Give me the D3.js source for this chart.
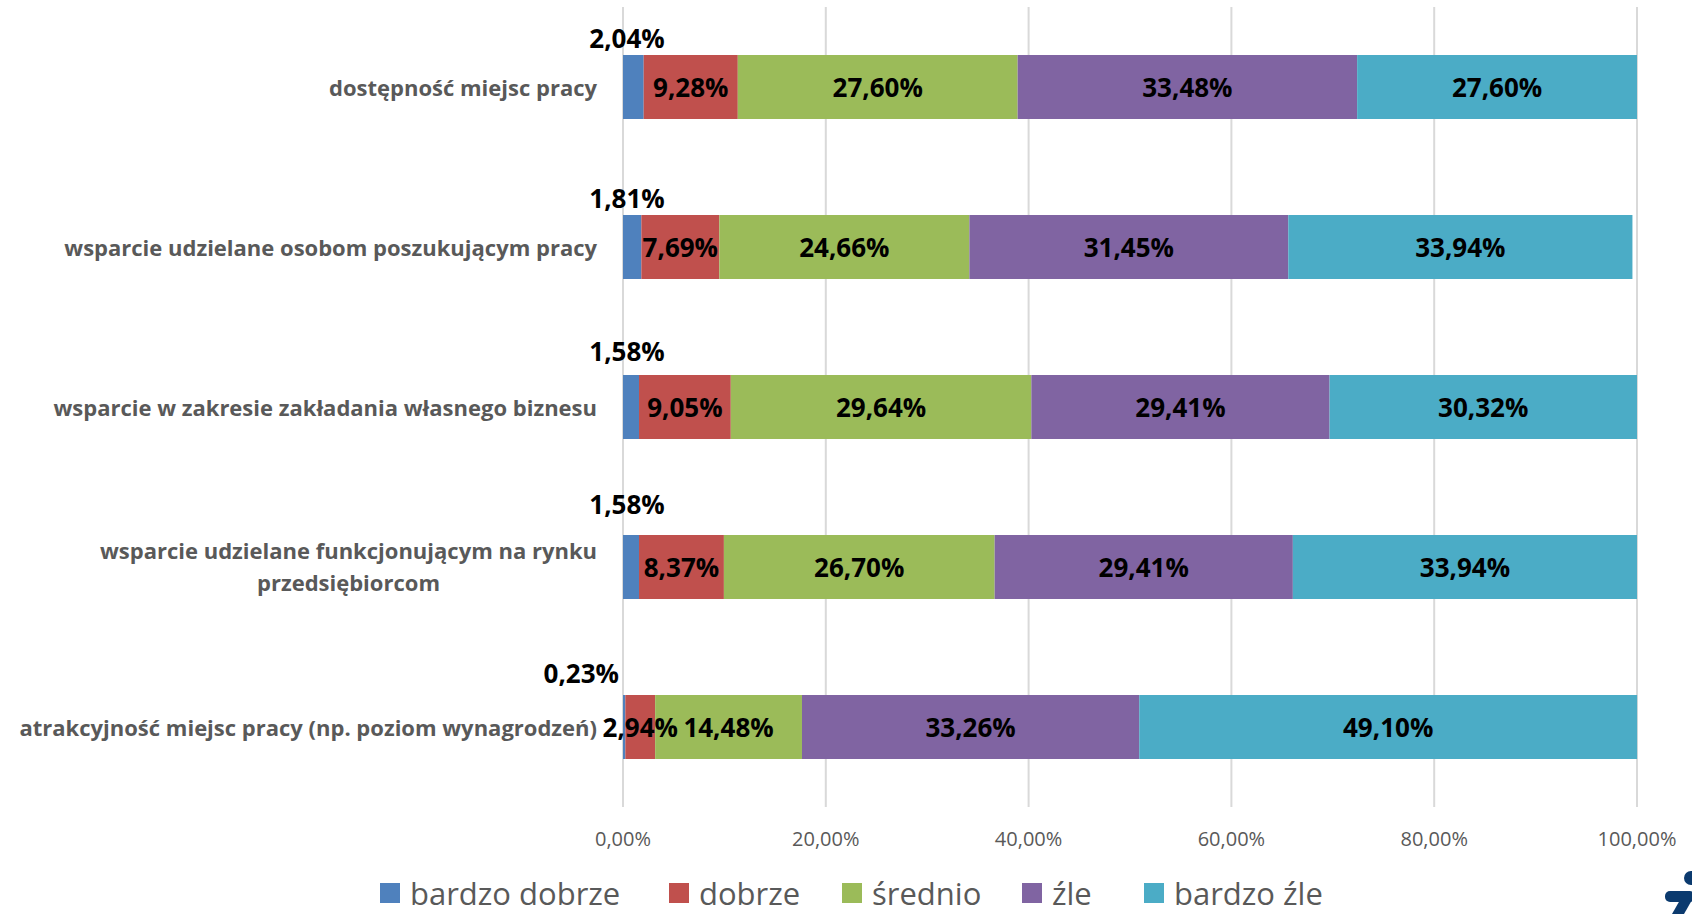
<!DOCTYPE html>
<html>
<head>
<meta charset="utf-8">
<script src="https://cdn.jsdelivr.net/npm/d3@7"></script>
<style>
  body { margin: 0; background: #fff; }
  text { font-family: "Open Sans", sans-serif; }
</style>
</head>
<body>
<div id="chart"></div>
<script>
// chart size
var svgWidth = 1692;
var svgHeight = 914;

// data
var categories = [
  "dostępność miejsc pracy",
  "wsparcie udzielane osobom poszukującym pracy",
  "wsparcie w zakresie zakładania własnego biznesu",
  "wsparcie udzielane funkcjonującym na rynku\nprzedsiębiorcom",
  "atrakcyjność miejsc pracy (np. poziom wynagrodzeń)"
];
var seriesNames = ["bardzo dobrze", "dobrze", "średnio", "źle", "bardzo źle"];
var bardzoDobrze = [2.04, 1.81, 1.58, 1.58, 0.23];
var dobrze       = [9.28, 7.69, 9.05, 8.37, 2.94];
var srednio      = [27.60, 24.66, 29.64, 26.70, 14.48];
var zle          = [33.48, 31.45, 29.41, 29.41, 33.26];
var bardzoZle    = [27.60, 33.94, 30.32, 33.94, 49.10];
var xTicks = [0, 20, 40, 60, 80, 100];
var colors = ["#4F81BD", "#C0504D", "#9BBB59", "#8064A2", "#4BACC6"];

// how far the small "bardzo dobrze" labels sit above each bar (px, hand placed in the original)
var smallLabelLift = [7, 7, 14, 21, 12];

var seriesValues = [bardzoDobrze, dobrze, srednio, zle, bardzoZle];

// build rows for the stack
var rows = categories.map(function(c, i) {
  var r = { cat: c, idx: i };
  seriesNames.forEach(function(s, j) { r[s] = seriesValues[j][i]; });
  return r;
});

var svg = d3.select("#chart").append("svg")
  .attr("width", svgWidth)
  .attr("height", svgHeight);

var xScale = d3.scaleLinear().domain([0, 100]).range([623, 1637]);
var yScale = d3.scaleBand().domain(categories).range([7, 807])
  .paddingInner(0.6).paddingOuter(0.3);

var fmt = function(v) { return v.toFixed(2).replace(".", ",") + "%"; };

// gridlines
svg.append("g").selectAll("line")
  .data(xTicks)
  .enter()
  .append("line")
  .attr("x1", d => xScale(d))
  .attr("x2", d => xScale(d))
  .attr("y1", 7)
  .attr("y2", 807)
  .attr("stroke", "#d9d9d9")
  .attr("stroke-width", 2);

// x axis tick labels
svg.append("g").selectAll("text")
  .data(xTicks)
  .enter()
  .append("text")
  .attr("x", d => xScale(d))
  .attr("y", 838)
  .attr("text-anchor", "middle")
  .attr("dominant-baseline", "central")
  .attr("fill", "#595959")
  .style("font-size", "20px")
  .text(d => d.toFixed(2).replace(".", ",") + "%");

// stacked bars
var stacked = d3.stack().keys(seriesNames)(rows);

var layers = svg.append("g").selectAll("g")
  .data(stacked)
  .enter()
  .append("g")
  .attr("fill", (d, i) => colors[i]);

layers.selectAll("rect")
  .data(d => d)
  .enter()
  .append("rect")
  .attr("x", d => xScale(d[0]))
  .attr("y", d => yScale(d.data.cat))
  .attr("width", d => xScale(d[1]) - xScale(d[0]))
  .attr("height", yScale.bandwidth());

// value labels (first series sits above the bar)
stacked.forEach(function(layer, i) {
  svg.append("g").selectAll("text")
    .data(layer)
    .enter()
    .append("text")
    .attr("x", function(d) {
      if (i === 0) return d[1] < 1 ? xScale(0) - 4 : xScale(0) + 4;
      return (xScale(d[0]) + xScale(d[1])) / 2;
    })
    .attr("y", function(d) {
      if (i === 0) return yScale(d.data.cat) - smallLabelLift[d.data.idx];
      return yScale(d.data.cat) + yScale.bandwidth() / 2;
    })
    .attr("text-anchor", d => (i === 0 && d[1] < 1) ? "end" : "middle")
    .attr("dominant-baseline", i === 0 ? "auto" : "central")
    .attr("fill", "#000")
    .style("font-size", "26px")
    .style("font-weight", "bold")
    .text(d => fmt(d[1] - d[0]));
});

// category labels
var catGroup = svg.append("g");
categories.forEach(function(c) {
  var lines = c.split("\n");
  var cy = yScale(c) + yScale.bandwidth() / 2;
  var lh = 32;
  var t = catGroup.append("text")
    .attr("fill", "#595959")
    .style("font-size", "22px")
    .style("font-weight", "bold")
    .attr("dominant-baseline", "central");
  if (lines.length === 1) {
    t.attr("x", 597).attr("y", cy).attr("text-anchor", "end").text(c);
  } else {
    t.attr("text-anchor", "middle");
    var spans = t.selectAll("tspan").data(lines).enter().append("tspan")
      .attr("y", (d, k) => cy - lh * (lines.length - 1) / 2 - 1 + k * lh)
      .text(d => d);
    var maxW = 0;
    spans.each(function() { maxW = Math.max(maxW, this.getComputedTextLength()); });
    spans.attr("x", 597 - maxW / 2);
  }
});

// legend
var legendX = [380, 669, 842, 1022, 1144];
var legend = svg.append("g").selectAll("g")
  .data(seriesNames)
  .enter()
  .append("g")
  .attr("transform", (d, i) => `translate(${legendX[i]}, 893)`);

legend.append("rect")
  .attr("x", 0)
  .attr("y", -10)
  .attr("width", 20)
  .attr("height", 20)
  .attr("fill", (d, i) => colors[i]);

legend.append("text")
  .attr("x", 30)
  .attr("y", 0)
  .attr("dominant-baseline", "central")
  .attr("fill", "#595959")
  .style("font-size", "31px")
  .text(d => d);

// corner logo fragment (navy figure cut by the edge)
var logo = svg.append("g").attr("fill", "#0b3a6e");
logo.append("circle").attr("cx", 1691).attr("cy", 878).attr("r", 7);
logo.append("rect").attr("x", 1665).attr("y", 891).attr("width", 30).attr("height", 11).attr("rx", 5);
logo.append("path").attr("d", "M1680,900 L1692,900 L1684,914 L1672,914 Z");
</script>
</body>
</html>
